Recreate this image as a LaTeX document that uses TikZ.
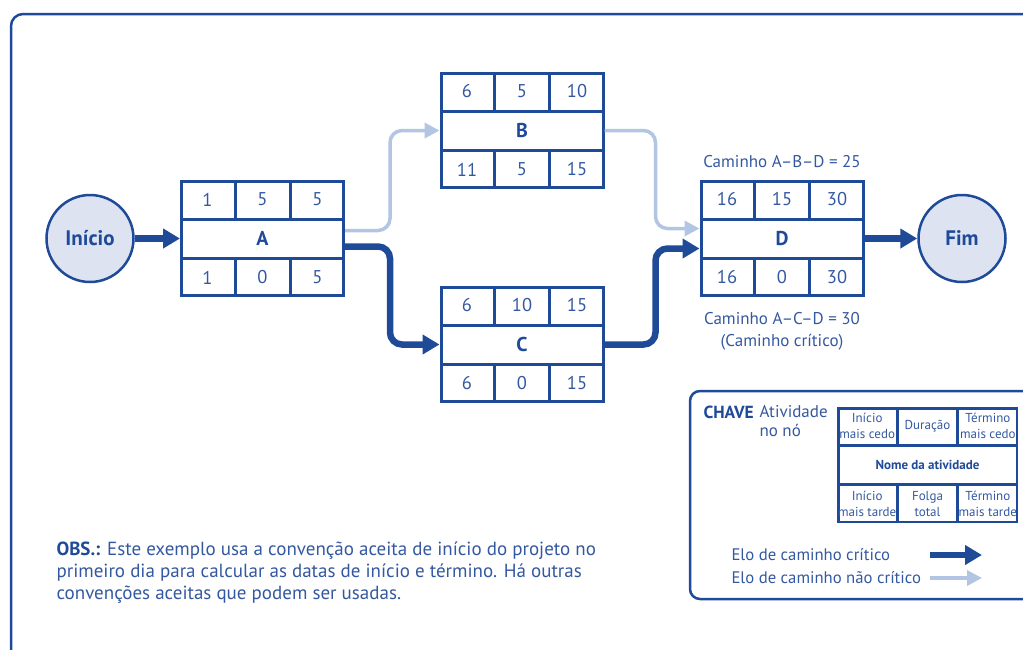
\documentclass[tikz,border=0pt]{standalone}
\usepackage{fontspec}
\setmainfont{PT Sans}
\usetikzlibrary{arrows.meta,calc,positioning}

\definecolor{azul}{RGB}{30,74,152}
\definecolor{azultexto}{RGB}{52,88,160}
\definecolor{azulclaro}{RGB}{178,197,226}
\definecolor{fundo}{RGB}{221,227,241}

% caixa de atividade: nome, posicao, rotulo, 6 valores
\newcommand{\atividade}[9]{%
  \node[ativ] (#1) at (#2) {#3};
  \coordinate (#1-v1) at ($(#1.north west)!1/3!(#1.north east)$);
  \coordinate (#1-v2) at ($(#1.north west)!2/3!(#1.north east)$);
  \coordinate (#1-h1) at ($(#1.north west)!1/3!(#1.south west)$);
  \coordinate (#1-h2) at ($(#1.north west)!2/3!(#1.south west)$);
  \coordinate (#1-c1) at ($(#1.north west)!1/6!(#1.north east)$);
  \coordinate (#1-c3) at ($(#1.north west)!5/6!(#1.north east)$);
  \coordinate (#1-r1) at ($(#1.north west)!1/6!(#1.south west)$);
  \coordinate (#1-r3) at ($(#1.north west)!5/6!(#1.south west)$);
  \draw[grade] (#1-h1) -- (#1-h1 -| #1.east);
  \draw[grade] (#1-h2) -- (#1-h2 -| #1.east);
  \draw[grade] (#1-v1) -- (#1-v1 |- #1-h1);
  \draw[grade] (#1-v2) -- (#1-v2 |- #1-h1);
  \draw[grade] (#1-v1 |- #1-h2) -- (#1-v1 |- #1.south);
  \draw[grade] (#1-v2 |- #1-h2) -- (#1-v2 |- #1.south);
  \node[num] (#1-ce) at (#1-c1 |- #1-r1) {#4};
  \node[num] (#1-du) at (#1.north |- #1-r1) {#5};
  \node[num] (#1-te) at (#1-c3 |- #1-r1) {#6};
  \node[num] (#1-cl) at (#1-c1 |- #1-r3) {#7};
  \node[num] (#1-fo) at (#1.north |- #1-r3) {#8};
  \node[num] (#1-tl) at (#1-c3 |- #1-r3) {#9};
}

\begin{document}
\begin{tikzpicture}[x=1pt, y=-1pt,
  ativ/.style={rectangle, draw=azul, line width=3pt, minimum width=162pt,
    minimum height=114pt, inner sep=0pt, text=azul,
    font=\fontsize{20}{22}\selectfont\bfseries},
  grade/.style={draw=azul, line width=3pt},
  num/.style={font=\fontsize{18.5}{20}\selectfont, text=azultexto,
    align=center, inner sep=0pt},
  evento/.style={circle, draw=azul, line width=2.5pt, fill=fundo,
    minimum size=87pt, inner sep=0pt, text=azul,
    font=\fontsize{21}{22}\selectfont\bfseries},
  critico/.style={draw=azul, line width=6.5pt, rounded corners=12pt,
    -{Triangle[length=17pt,width=19pt]}},
  naocritico/.style={draw=azulclaro, line width=3.5pt, rounded corners=12pt,
    -{Triangle[length=15pt,width=15pt]}},
  rotulo/.style={font=\fontsize{17}{22}\selectfont, text=azultexto, align=center},
  moldura/.style={draw=azul, line width=2.5pt, rounded corners=12pt},
  ]
  \useasboundingbox (0,0) rectangle (1023,649);
  \clip (0,0) rectangle (1023,649);
  \draw[moldura] (11,14) rectangle (1070,700);

  \node[evento] (inicio) at (90,238.5) {Início};
  \node[evento] (fim) at (962,238.5) {Fim};

  \atividade{A}{262.5,238.5}{A}{1}{5}{5}{1}{0}{5}
  \atividade{B}{522,130.5}{B}{6}{5}{10}{11}{5}{15}
  \atividade{C}{522,344.5}{C}{6}{10}{15}{6}{0}{15}
  \atividade{D}{782,238.5}{D}{16}{15}{30}{16}{0}{30}

  \draw[critico] (inicio.east) -- (A.west);
  \draw[naocritico] ($(A.east)+(0,-8)$) -- ++(45,0) |- (B.west);
  \draw[critico] ($(A.east)+(0,8)$) -- ++(45,0) |- (C.west);
  \draw[naocritico] (B.east) -- ++(51,0) |- ($(D.west)+(0,-10)$);
  \draw[critico] (C.east) -- ++(51,0) |- ($(D.west)+(0,10)$);
  \draw[critico] (D.east) -- (fim.west);

  \node[rotulo, above=9pt of D] (abd) {Caminho A–B–D = 25};
  \node[rotulo, below=12pt of D] (acd) {Caminho A–C–D = 30\\(Caminho crítico)};

  \node[rotulo, anchor=north west, align=left, font=\fontsize{19}{22}\selectfont]
    (obs) at (53,538) {\textbf{\color{azul}OBS.:} Este exemplo usa a convenção aceita de início do projeto no\\
    primeiro dia para calcular as datas de início e término. Há outras\\
    convenções aceitas que podem ser usadas.};

  % legenda
  \draw[moldura, rounded corners=10pt] (690,391) rectangle (1070,599);
  \node[rotulo, anchor=north west, text=azul, font=\fontsize{17.5}{19}\selectfont\bfseries]
    (chavetit) at (700,402) {CHAVE};
  \node[rotulo, anchor=north west, align=left, font=\fontsize{17}{19}\selectfont]
    (ativno) at (756,402) {Atividade\\no nó};
  \begin{scope}[ativ/.append style={minimum width=178.5pt, minimum height=113.5pt,
      line width=2.5pt, font=\fontsize{13}{15}\selectfont\bfseries},
    grade/.append style={line width=2.5pt},
    num/.append style={font=\fontsize{13}{16}\selectfont}]
  \atividade{chave}{927.5,465}{Nome da atividade}{Início\\mais cedo}{Duração}{Término\\mais cedo}{Início\\mais tarde}{Folga\\total}{Término\\mais tarde}
  \end{scope}
  \node[rotulo, anchor=west, font=\fontsize{16.7}{18}\selectfont] (elocrit) at (728,555) {Elo de caminho crítico};
  \node[rotulo, anchor=west, font=\fontsize{16.7}{18}\selectfont] (elonao) at (728,578) {Elo de caminho não crítico};
  \coordinate (crit-ini) at (930,555);
  \coordinate (crit-fim) at (982,555);
  \coordinate (nao-ini) at (930,578);
  \coordinate (nao-fim) at (982,578);
  \draw[critico] (crit-ini) -- (crit-fim);
  \draw[naocritico] (nao-ini) -- (nao-fim);
\end{tikzpicture}
\end{document}
